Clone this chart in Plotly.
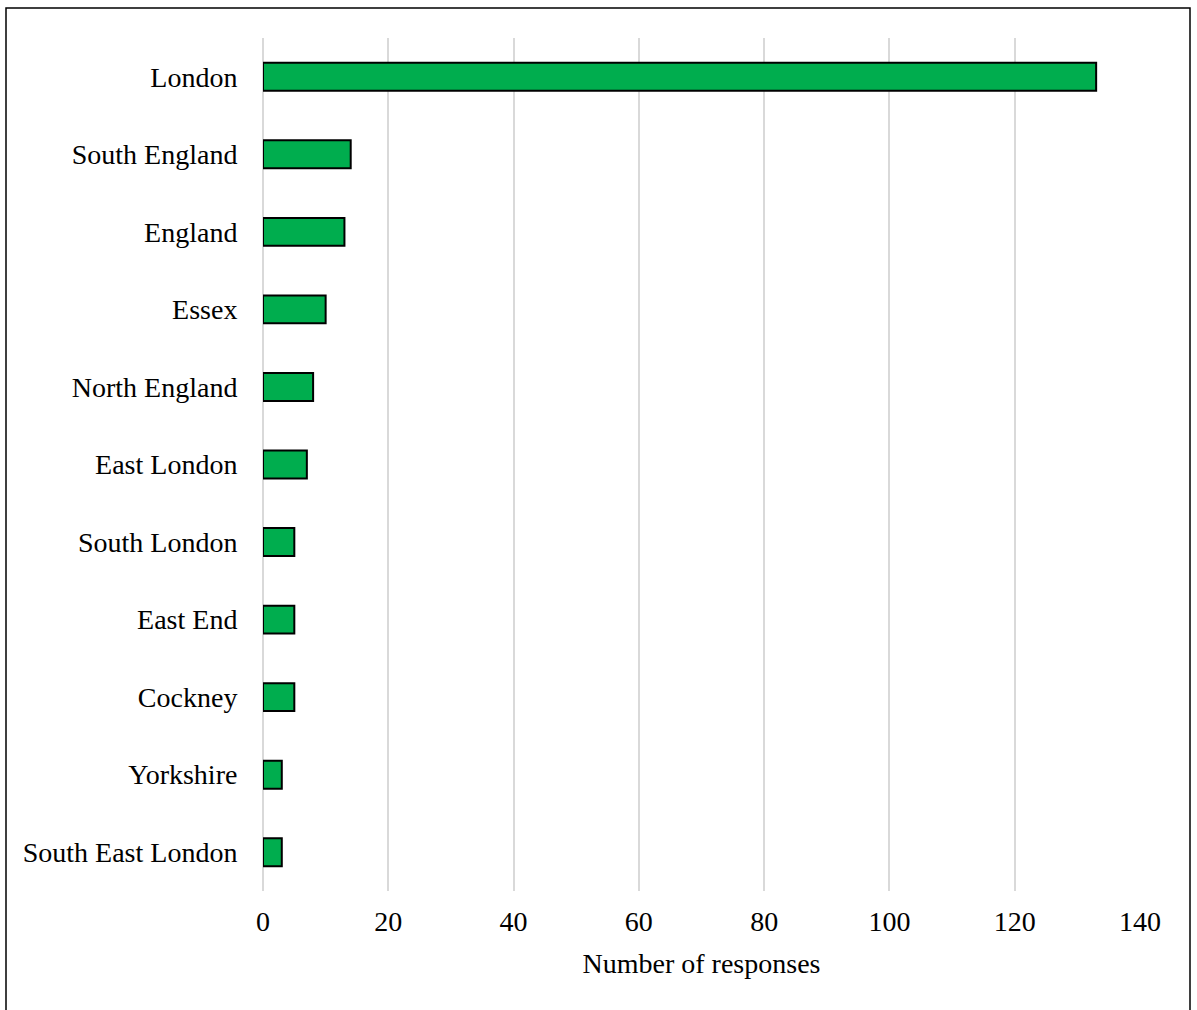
import plotly.graph_objects as go

categories = ["London", "South England", "England", "Essex", "North England",
              "East London", "South London", "East End", "Cockney", "Yorkshire",
              "South East London"]
responses = [133, 14, 13, 10, 8, 7, 5, 5, 5, 3, 3]
x_ticks = [0, 20, 40, 60, 80, 100, 120, 140]

FONT = "Liberation Serif"
FS = 28

fig = go.Figure(go.Bar(
    x=responses, y=categories, orientation="h",
    marker=dict(color="#00AD4E", line=dict(color="black", width=2)),
    width=0.36,
))

W, H = 1197, 1010
l, r, t, b = 263, 57, 38, 119
pw, ph = W - l - r, H - t - b

def px(xp):
    return (xp - l) / pw

def py(yp):
    return 1 - (yp - t) / ph

fig.update_layout(
    width=W, height=H,
    margin=dict(l=l, r=r, t=t, b=b),
    plot_bgcolor="white", paper_bgcolor="white",
    font=dict(family=FONT, size=FS, color="black"),
    showlegend=False,
    xaxis=dict(range=[0, 140], tickvals=x_ticks, showgrid=True, gridcolor="#D9D9D9",
               gridwidth=1.5, zeroline=True, zerolinecolor="#D9D9D9", zerolinewidth=1.5,
               showline=False,
               ticks="outside", ticklen=5, tickcolor="rgba(0,0,0,0)",
               title=dict(text="Number of responses", standoff=17,
                          font=dict(family=FONT, size=FS, color="black")),
               tickfont=dict(family=FONT, size=FS, color="black")),
    yaxis=dict(categoryorder="array", categoryarray=categories[::-1],
               showgrid=False, zeroline=False, showline=False,
               ticks="outside", ticklen=19, tickcolor="rgba(0,0,0,0)",
               tickfont=dict(family=FONT, size=FS, color="black")),
    shapes=[dict(type="rect", xref="paper", yref="paper",
                 x0=px(6), x1=px(1190), y0=py(1030), y1=py(8),
                 line=dict(color="black", width=1.5), fillcolor="rgba(0,0,0,0)",
                 layer="above")],
)
fig.write_html("out.html")
